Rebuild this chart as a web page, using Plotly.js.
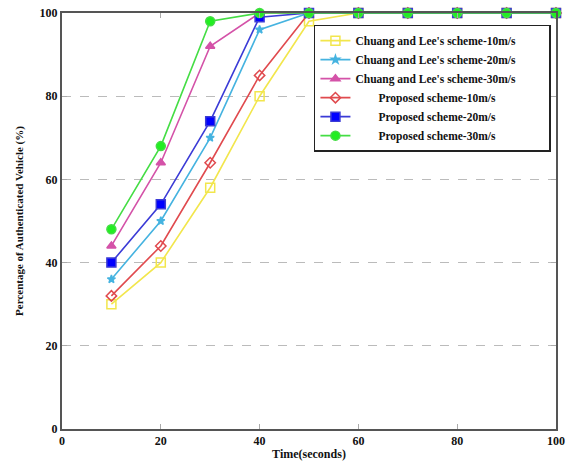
<!DOCTYPE html>
<html>
<head>
<meta charset="utf-8">
<script src="https://cdn.plot.ly/plotly-3.0.1.min.js"></script>
<style>html,body{margin:0;padding:0;background:#fff;}#chart{width:569px;height:463px;}</style>
</head>
<body>
<div id="chart"></div>
<script>
const time = [10, 20, 30, 40, 50, 60, 70, 80, 90, 100];
const chuang10 = [30, 40, 58, 80, 98, 100, 100, 100, 100, 100];
const chuang20 = [36, 50, 70, 96, 100, 100, 100, 100, 100, 100];
const chuang30 = [44, 64, 92, 100, 100, 100, 100, 100, 100, 100];
const proposed10 = [32, 44, 64, 85, 100, 100, 100, 100, 100, 100];
const proposed20 = [40, 54, 74, 99, 100, 100, 100, 100, 100, 100];
const proposed30 = [48, 68, 98, 100, 100, 100, 100, 100, 100, 100];
const pad = '\u00a0'.repeat(8);
const tail = '\u00a0'.repeat(9) + '<span style="color:#ffffff">.</span>';
const names = [
  "Chuang and Lee's scheme-10m/s" + tail,
  "Chuang and Lee's scheme-20m/s",
  "Chuang and Lee's scheme-30m/s",
  pad + "Proposed scheme-10m/s",
  pad + "Proposed scheme-20m/s",
  pad + "Proposed scheme-30m/s"
];

function tr(y, name, color, symbol, size, mcolor) {
  return {
    x: time, y: y, name: name, type: 'scatter', mode: 'lines+markers',
    line: {color: color, width: 1.6},
    marker: {symbol: symbol, size: size, color: mcolor || color, line: {color: color, width: 1.5}},
    cliponaxis: false
  };
}

const data = [
  tr(chuang10, names[0], '#f2e64c', 'square-open', 9),
  tr(chuang20, names[1], '#45b3e0', 'star', 6),
  tr(chuang30, names[2], '#d452a8', 'triangle-up', 8),
  tr(proposed10, names[3], '#e04a4e', 'diamond-open', 8),
  tr(proposed20, names[4], '#3b3bd6', 'square', 9, '#0000ff'),
  tr(proposed30, names[5], '#44dd44', 'circle', 9, '#22ee22')
];

const tickFont = {family: 'Liberation Serif', size: 12, color: '#111', weight: 'bold'};

const layout = {
  width: 569, height: 463,
  margin: {l: 62, r: 13, t: 13, b: 34},
  paper_bgcolor: '#fff', plot_bgcolor: '#fff',
  showlegend: true,
  xaxis: {
    range: [0, 100], tickvals: [0, 20, 40, 60, 80, 100],
    showgrid: false, zeroline: false,
    showline: true, linecolor: '#555', linewidth: 2, mirror: 'ticks',
    ticks: 'inside', ticklen: 5, tickcolor: '#aaa',
    tickfont: tickFont,
    title: {text: 'Time(seconds)', font: {family: 'Liberation Serif', size: 12, color: '#111', weight: 'bold'}, standoff: 2}
  },
  yaxis: {
    range: [0, 100], tickvals: [0, 20, 40, 60, 80, 100],
    showgrid: true, gridcolor: '#bbb', griddash: 'dash', gridwidth: 1,
    zeroline: false,
    showline: true, linecolor: '#555', linewidth: 2, mirror: 'ticks',
    ticks: 'inside', ticklen: 5, tickcolor: '#aaa',
    tickfont: tickFont,
    title: {text: 'Percentage of Authenticated Vehicle (%)', font: {family: 'Liberation Serif', size: 11, color: '#111', weight: 'bold'}, standoff: 14}
  },
  legend: {
    x: 0.51, y: 0.972, xanchor: 'left', yanchor: 'top',
    bgcolor: '#fff', bordercolor: '#222', borderwidth: 1.5,
    font: {family: 'Liberation Serif', size: 11.5, color: '#111', weight: 'bold'},
    tracegroupgap: 0, itemwidth: 30
  }
};

Plotly.newPlot('chart', data, layout, {displayModeBar: false, staticPlot: true});
</script>
</body>
</html>
